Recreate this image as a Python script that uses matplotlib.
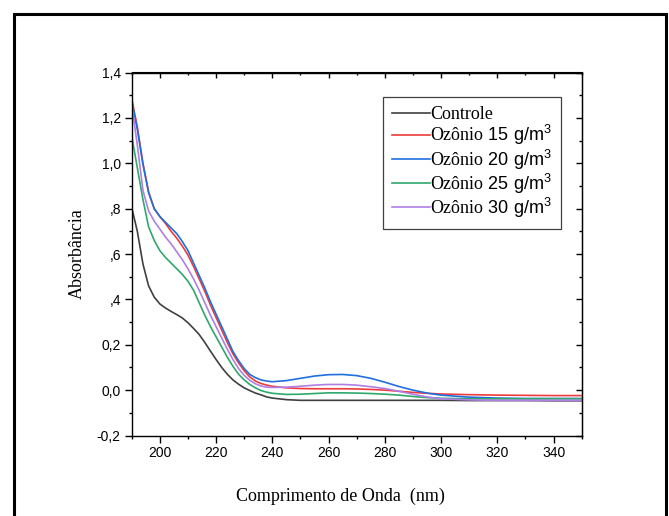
import matplotlib
matplotlib.use("Agg")
import matplotlib.pyplot as plt
from matplotlib.patches import Rectangle
from matplotlib.ticker import MultipleLocator

plt.rcParams["mathtext.fontset"] = "custom"
plt.rcParams["mathtext.rm"] = "Liberation Serif"
plt.rcParams["mathtext.sf"] = "Liberation Sans"

# wavelength (nm)
wl = [190, 192, 194, 196, 198, 200, 202, 204, 206, 208, 210, 212, 214, 216, 218,
      220, 222, 224, 226, 228, 230, 232, 234, 236, 238, 240, 245, 250, 255, 260,
      265, 270, 275, 280, 285, 290, 295, 300, 310, 320, 330, 340, 350]

controle = [0.805, 0.70, 0.556, 0.46, 0.41, 0.38, 0.362, 0.347, 0.333, 0.318, 0.297,
            0.272, 0.245, 0.210, 0.172, 0.135, 0.100, 0.070, 0.045, 0.026, 0.010,
            -0.002, -0.013, -0.021, -0.030, -0.035, -0.042, -0.045, -0.045, -0.045,
            -0.045, -0.045, -0.045, -0.045, -0.045, -0.045, -0.045, -0.045, -0.046,
            -0.046, -0.046, -0.047, -0.047]

oz15 = [1.285, 1.16, 1.00, 0.875, 0.80, 0.765, 0.735, 0.70, 0.67, 0.635, 0.595,
        0.545, 0.49, 0.435, 0.375, 0.32, 0.265, 0.21, 0.16, 0.12, 0.085, 0.058,
        0.04, 0.029, 0.022, 0.017, 0.010, 0.007, 0.006, 0.006, 0.006, 0.005, 0.003,
        0.000, -0.005, -0.010, -0.014, -0.017, -0.020, -0.022, -0.023, -0.024, -0.024]

oz20 = [1.275, 1.15, 0.995, 0.87, 0.80, 0.765, 0.74, 0.715, 0.69, 0.655, 0.615,
        0.56, 0.505, 0.45, 0.39, 0.335, 0.28, 0.225, 0.17, 0.13, 0.095, 0.069,
        0.055, 0.045, 0.040, 0.037, 0.042, 0.052, 0.062, 0.068, 0.069, 0.064, 0.052,
        0.035, 0.016, 0.000, -0.013, -0.022, -0.031, -0.035, -0.037, -0.037, -0.037]

oz25 = [1.12, 0.98, 0.84, 0.72, 0.66, 0.615, 0.585, 0.56, 0.535, 0.51, 0.48,
        0.44, 0.385, 0.33, 0.28, 0.235, 0.19, 0.145, 0.105, 0.07, 0.045, 0.025,
        0.010, -0.002, -0.009, -0.014, -0.019, -0.018, -0.015, -0.012, -0.012,
        -0.013, -0.015, -0.018, -0.022, -0.028, -0.033, -0.036, -0.038, -0.038,
        -0.038, -0.038, -0.038]

oz30 = [1.26, 1.08, 0.88, 0.79, 0.745, 0.71, 0.675, 0.645, 0.61, 0.575, 0.535,
        0.49, 0.44, 0.385, 0.33, 0.28, 0.23, 0.18, 0.135, 0.095, 0.065, 0.043,
        0.028, 0.018, 0.013, 0.012, 0.013, 0.017, 0.022, 0.025, 0.025, 0.022, 0.015,
        0.007, -0.005, -0.018, -0.030, -0.038, -0.043, -0.045, -0.045, -0.045, -0.045]

series = [
    ("Controle", controle, "#404040"),
    (r"Ozônio $\mathsf{15\ g/m^3}$", oz15, "#EE3B3B"),
    (r"Ozônio $\mathsf{20\ g/m^3}$", oz20, "#1F6FDF"),
    (r"Ozônio $\mathsf{25\ g/m^3}$", oz25, "#2FA86B"),
    (r"Ozônio $\mathsf{30\ g/m^3}$", oz30, "#B07FE6"),
]

yticks = [-0.2, 0.0, 0.2, 0.4, 0.6, 0.8, 1.0, 1.2, 1.4]
ytick_labels = ["-0,2", "0,0", "0,2", ",4", ",6", ",8", "1,0", "1,2", "1,4"]
xticks = [200, 220, 240, 260, 280, 300, 320, 340]

W, H = 669, 516
fig = plt.figure(figsize=(W / 100, H / 100), dpi=100)
ax = fig.add_axes([131.7 / W, 1 - 435.5 / H, 450 / W, 363 / H])

for name, vals, col in series:
    ax.plot(wl, vals, color=col, lw=1.2, label=name)

ax.set_xlim(190, 350)
ax.set_ylim(-0.2, 1.4)
ax.set_xticks(xticks)
ax.set_xticklabels([str(t) for t in xticks], family="Liberation Sans", fontsize=10)
ax.set_yticks(yticks)
ax.set_yticklabels(ytick_labels, family="Liberation Sans", fontsize=10)
ax.xaxis.set_minor_locator(MultipleLocator(10))
ax.yaxis.set_minor_locator(MultipleLocator(0.1))
ax.tick_params(which="major", direction="out", length=4.8, width=1, pad=3)
ax.tick_params(which="minor", direction="out", length=2.4, width=1)
for s in ax.spines.values():
    s.set_linewidth(1)

# inward ticks on top and right
top = ax.secondary_xaxis("top")
top.set_xticks(xticks)
top.xaxis.set_minor_locator(MultipleLocator(10))
top.tick_params(which="major", direction="in", length=4.5, width=1, labeltop=False)
top.tick_params(which="minor", direction="in", length=2.4, width=1)
right = ax.secondary_yaxis("right")
right.set_yticks(yticks)
right.yaxis.set_minor_locator(MultipleLocator(0.1))
right.tick_params(which="major", direction="in", length=4.5, width=1, labelright=False)
right.tick_params(which="minor", direction="in", length=2.4, width=1)

ax.set_xlabel("Comprimento de Onda  (nm)", family="Liberation Serif", fontsize=13)
ax.set_ylabel("Absorbância", family="Liberation Serif", fontsize=13, labelpad=8)
ax.xaxis.set_label_coords((340 - 131.7) / 450, -0.145)

leg = ax.legend(loc="upper left", bbox_to_anchor=(383.3 / W, 1 - 97.3 / H),
                bbox_transform=fig.transFigure, borderaxespad=0, fancybox=False,
                frameon=True, edgecolor="#404040", framealpha=1,
                prop={"family": "Liberation Serif", "size": 13},
                handlelength=2.1, handletextpad=0, labelspacing=0.0, borderpad=0.5)
leg.get_frame().set_linewidth(0.9)

# outer frame around the figure
fig.patches.append(Rectangle((14 / W, -0.05), (666 - 14) / W, (H - 14) / H + 0.05,
                             transform=fig.transFigure, fill=False, lw=2.2,
                             edgecolor="black"))

fig.savefig("out.png", dpi=100)
